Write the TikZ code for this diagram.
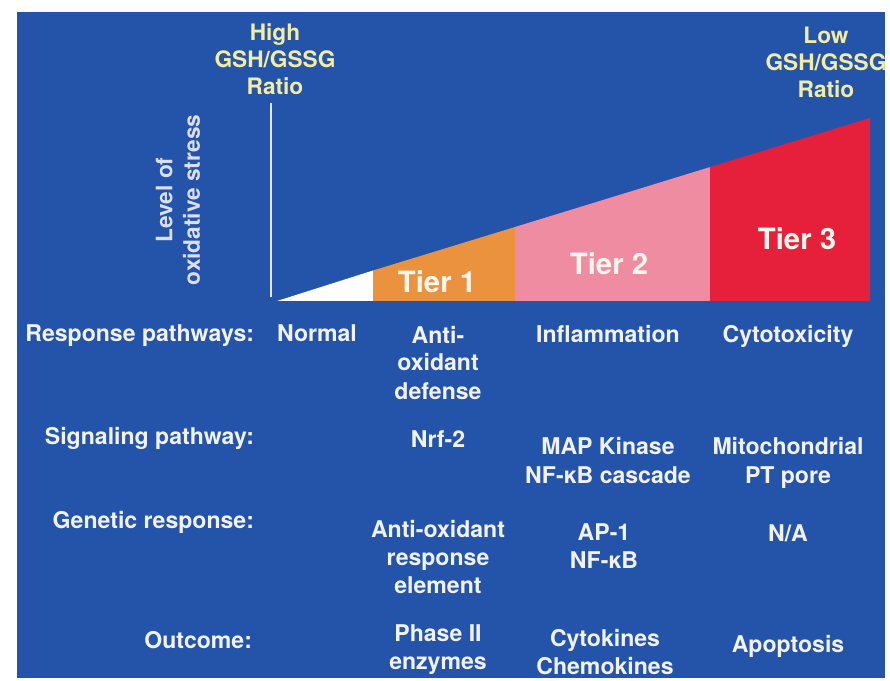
\documentclass[tikz,border=0pt]{standalone}
\usepackage{fontspec}
\setmainfont{TeX Gyre Heros}
\definecolor{panelblue}{RGB}{36,84,170}
\definecolor{tierorange}{RGB}{234,146,62}
\definecolor{tierpink}{RGB}{240,140,162}
\definecolor{tierred}{RGB}{230,32,58}
\definecolor{tabtext}{RGB}{242,242,244}
\definecolor{gshyellow}{RGB}{244,236,160}
\definecolor{stresstxt}{RGB}{220,222,245}
\definecolor{tierwhite}{RGB}{255,246,236}
\definecolor{axiscol}{RGB}{225,232,250}
\begin{document}
\begin{tikzpicture}[x=0.75pt,y=-0.75pt,
  every node/.style={inner sep=0pt, outer sep=0pt, font=\bfseries\fontsize{17.3}{21}\selectfont},
  lbl/.style={text=tabtext, anchor=base east},
  val/.style={text=tabtext, align=center, anchor=base},
  tiertxt/.style={text=tierwhite, anchor=base, font=\bfseries\fontsize{22}{26}\selectfont},
  gsh/.style={text=gshyellow, align=center, anchor=base, font=\bfseries\fontsize{17}{20.6}\selectfont},
  axisline/.style={draw=axiscol, line width=1.4pt}]
\useasboundingbox (0,0) rectangle (890,681);
\fill[white] (0,0) rectangle (890,681);
\fill[panelblue] (17,12) rectangle (885,678);
% staircase wedge
\coordinate (apex) at (277,301);
\fill[white] (apex) -- (373,301) -- (373,270.5) -- cycle;
\fill[tierorange] (373,301) -- (515,301) -- (515,227) -- (373,270.5) -- cycle;
\fill[tierpink] (515,301) -- (710,301) -- (710,167.1) -- (515,227) -- cycle;
\fill[tierred] (710,301) -- (870,301) -- (870,118) -- (710,167.1) -- cycle;
% axis
\coordinate (axtop) at (271,103);
\coordinate (axbot) at (271,297);
\draw[axisline] (axtop) -- (axbot);
% tier labels
\node[tiertxt] (t1) at (437,293) {Tier 1};
\node[tiertxt] (t2) at (609,275) {Tier 2};
\node[tiertxt] (t3) at (797,250) {Tier 3};
% top labels (anchor = baseline of last line)
\node[gsh] (high) at (275,95) {High\\GSH/GSSG\\Ratio};
\node[gsh] (low) at (826,98) {Low\\GSH/GSSG\\Ratio};
% rotated axis label
\node[rotate=90, align=center, text=stresstxt, font=\bfseries\fontsize{17}{20.5}\selectfont] (stress) at (178,200) {Level of\\oxidative stress};
% row labels
\node[lbl] (r1) at (254,342) {Response pathways:};
\node[lbl] (r2) at (254,444) {Signaling pathway:};
\node[lbl] (r3) at (254,528) {Genetic response:};
\node[lbl] (r4) at (252,648) {Outcome:};
% values (anchor = baseline of last line)
\node[val] (normal) at (317,342) {Normal};
\node[val] (c1a) at (438,399) {Anti-\\oxidant\\defense};
\node[val] (c1b) at (438,447) {Nrf-2};
\node[val] (c1c) at (438,593) {Anti-oxidant\\response\\element};
\node[val] (c1d) at (438,669) {Phase II\\enzymes};
\node[val] (c2a) at (608,343) {Inflammation};
\node[val] (c2b) at (608,483) {MAP Kinase\\NF-κB cascade};
\node[val] (c2c) at (604,568) {AP-1\\NF-κB};
\node[val] (c2d) at (605,674) {Cytokines\\Chemokines};
\node[val] (c3a) at (788,343) {Cytotoxicity};
\node[val] (c3b) at (788,483) {Mitochondrial\\PT pore};
\node[val] (c3c) at (788,541) {N/A};
\node[val] (c3d) at (788,652) {Apoptosis};
\end{tikzpicture}
\end{document}
